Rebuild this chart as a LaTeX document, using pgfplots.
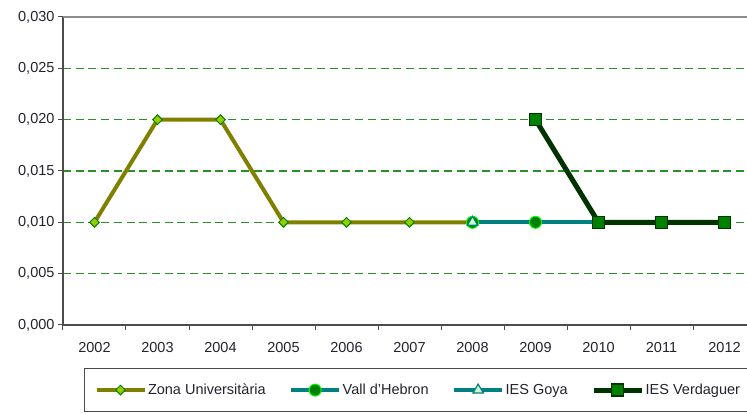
\documentclass[border=0pt]{standalone}
\usepackage{fontspec}
\setmainfont{Liberation Sans}
\usepackage{pgfplots}
\pgfplotsset{compat=1.18}
\definecolor{olivel}{RGB}{128,128,0}
\definecolor{tealc}{RGB}{0,128,128}
\definecolor{dkgreen}{RGB}{0,51,0}
\definecolor{midgreen}{RGB}{0,128,0}
\definecolor{gridg}{RGB}{40,145,40}
\definecolor{yellowgreen}{RGB}{153,204,0}
\definecolor{limec}{RGB}{0,255,0}
\definecolor{paleg}{RGB}{204,255,204}
\definecolor{txt}{RGB}{35,35,45}
\begin{document}
\begin{tikzpicture}
\begin{axis}[
  scale only axis,
  width=693pt, height=308pt,
  xmin=-0.5, xmax=10.5,
  ymin=0, ymax=0.03,
  axis lines=left,
  axis line style={-, draw=black!70, line width=1.2pt},
  tick align=outside,
  major tick length=5pt,
  tick style={draw=black!70, line width=1pt},
  xtick={-0.5,0.5,1.5,2.5,3.5,4.5,5.5,6.5,7.5,8.5,9.5,10.5},
  xticklabels={2002,2003,2004,2005,2006,2007,2008,2009,2010,2011,2012,{}},
  xticklabel style={xshift=31.5pt, yshift=-9pt},
  ytick={0,0.005,0.01,0.015,0.02,0.025,0.03},
  scaled y ticks=false,
  yticklabel style={/pgf/number format/.cd, fixed, fixed zerofill, precision=3, use comma},
  /pgf/number format/assume math mode=true,
  tick label style={font=\fontsize{14.5}{17}\selectfont, text=txt},
  ymajorgrids,
  major grid style={draw=gridg, line width=1.2pt, dash pattern=on 8pt off 4.7pt},
  legend columns=4,
  legend cell align=left,
  legend image code/.code={\draw[mark repeat=2,mark phase=2,#1] plot coordinates {(0pt,0pt) (24pt,0pt) (48pt,0pt)};},
  legend style={at={(axis description cs:0,0)}, anchor=north west, xshift=21pt, yshift=-43pt,
    draw=black!70, line width=1pt, font=\fontsize{14.5}{17}\selectfont, text=txt,
    inner xsep=10pt, inner ysep=14pt,
    nodes={inner sep=1.5pt},
    /tikz/every even column/.append style={column sep=22pt}},
]
\addplot[olivel, line width=4pt, mark=square*, mark size=3.4pt,
  mark options={rotate=45, fill=yellowgreen, draw=midgreen, line width=1pt}]
  coordinates {(0,0.010) (1,0.020) (2,0.020) (3,0.010) (4,0.010) (5,0.010) (6,0.010)};
\addlegendentry{Zona Universitària}
\addplot[tealc, line width=4pt, mark=*, mark size=6pt,
  mark options={fill=midgreen, draw=limec, line width=1pt}]
  coordinates {(6,0.010) (7,0.010) (8,0.010) (9,0.010) (10,0.010)};
\addlegendentry{Vall d'Hebron}
\addplot[tealc, line width=4pt, mark=triangle*, mark size=6pt,
  mark options={fill=paleg, draw=tealc, line width=1.2pt}]
  coordinates {(6,0.010)};
\addlegendentry{IES Goya}
\addplot[dkgreen, line width=5pt, mark=square*, mark size=6pt,
  mark options={fill=midgreen, draw=dkgreen, line width=1.2pt}]
  coordinates {(7,0.020) (8,0.010) (9,0.010) (10,0.010)};
\addlegendentry{IES Verdaguer}
\draw[black!45, line width=1.5pt] (rel axis cs:0,1) -- (rel axis cs:1,1);
\end{axis}
\pgfresetboundingbox
\path (-63pt,-89pt) rectangle (684pt,325pt);
\end{tikzpicture}
\end{document}
